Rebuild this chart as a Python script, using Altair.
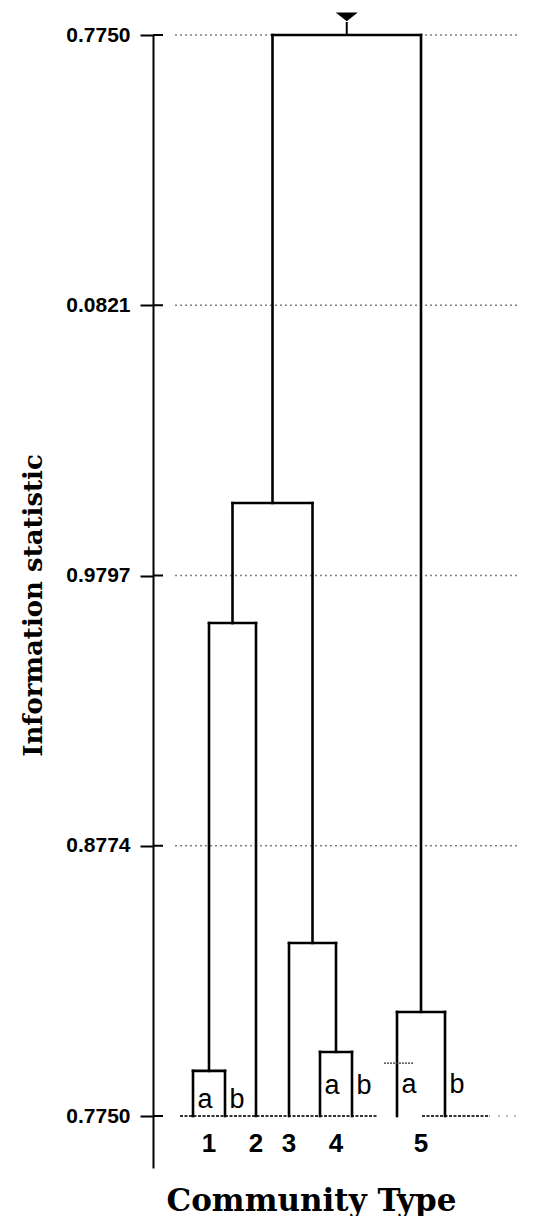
import json
import altair as alt
import pandas as pd

# ---------------- data ----------------
# leaves of the dendrogram, left to right, with their horizontal positions
leaf_names = ["1a", "1b", "2", "3", "4a", "4b", "5a", "5b"]
leaf_pos = [40, 72, 103, 136, 167, 199, 244, 292]
leaf_letters = ["a", "b", "", "", "a", "b", "a", "b"]
letter_level = [0.03, 0.03, 0.0, 0.0, 0.08, 0.08, 0.085, 0.085]

# merges (left child, right child, resulting node, height in axis units)
merge_left = ["1a", "4a", "5a", "3", "1", "12", "1234"]
merge_right = ["1b", "4b", "5b", "4", "2", "34", "5"]
merge_name = ["1", "4", "5", "34", "12", "1234", "root"]
merge_height = [0.167, 0.237, 0.385, 0.640, 1.824, 2.268, 4.0]

# community types shown under the tree
community_labels = ["1", "2", "3", "4", "5"]

# y-axis ticks and their printed labels
tick_values = [0, 1, 2, 3, 4]
tick_labels = ["0.7750", "0.8774", "0.9797", "0.0821", "0.7750"]

# small dotted mark crossing leaf 5a
mark_5a_level = [0.196]

# ---------------- build tree segments ----------------
node_x = {n: p for n, p in zip(leaf_names, leaf_pos)}
node_h = {n: 0.0 for n in leaf_names}
segs = []
for l, r, n, h in zip(merge_left, merge_right, merge_name, merge_height):
    xl, xr = node_x[l], node_x[r]
    segs.append(dict(x=xl, x2=xl, y=node_h[l], y2=h))
    segs.append(dict(x=xr, x2=xr, y=node_h[r], y2=h))
    segs.append(dict(x=xl, x2=xr, y=h, y2=h))
    node_x[n] = (xl + xr) / 2
    node_h[n] = h
seg_df = pd.DataFrame(segs)

root_x = node_x["root"]
root_h = node_h["root"]
stem_df = pd.DataFrame([dict(x=root_x, x2=root_x, y=root_h, y2=root_h + 0.048)])
marker_df = pd.DataFrame([dict(x=root_x, y=root_h + 0.067)])

letters_df = pd.DataFrame(
    [dict(x=p + 12, y=lv, t=t) for p, lv, t in zip(leaf_pos, letter_level, leaf_letters) if t]
)
numbers_df = pd.DataFrame(
    [dict(x=node_x[c], y=-0.133, t=c) for c in community_labels]
)
grid_df = pd.DataFrame(dict(y=tick_values[1:]))
ticks_df = pd.DataFrame(dict(y=tick_values))
base_df = pd.DataFrame(dict(y=[0]))
x5a = node_x["5a"]
m5a_df = pd.DataFrame(dict(x=[x5a - 13], x2=[x5a + 17], y=mark_5a_level))

# ---------------- scales / axes ----------------
W, H = 364, 1133
xscale = alt.Scale(domain=[0, W], nice=False, zero=False)
yscale = alt.Scale(domain=[-0.1924, 4], nice=False, zero=False)

label_expr = json.dumps(tick_labels) + "[datum.value]"

yaxis = alt.Axis(
    values=tick_values,
    labelExpr=label_expr,
    title="Information statistic",
    titleFont="DejaVu Serif",
    titleFontSize=26,
    titleFontWeight="bold",
    titleColor="black",
    titleAngle=270,
    titleAlign="center",
    titleBaseline="alphabetic",
    titleX=-112,
    titleY=570,
    labelFont="Liberation Sans",
    labelFontSize=21,
    labelFontWeight="bold",
    labelColor="black",
    labelPadding=10,
    tickSize=13,
    tickColor="black",
    tickWidth=2,
    domainColor="black",
    domainWidth=2,
    grid=False,
)
xaxis = alt.Axis(
    title="Community Type",
    titleFont="DejaVu Serif",
    titleFontSize=31,
    titleFontWeight="bold",
    titleColor="black",
    titleX=158,
    titleY=42,
    titleAlign="center",
    titleBaseline="alphabetic",
    domain=False,
    ticks=False,
    labels=False,
    grid=False,
)


def X(f):
    return alt.X(f, type="quantitative", scale=xscale, axis=xaxis)


def Y(f):
    return alt.Y(f, type="quantitative", scale=yscale, axis=yaxis)


grid = alt.Chart(grid_df).mark_rule(
    color="#808080", strokeWidth=1.3, strokeDash=[2, 3]
).encode(x=alt.value(22), x2=alt.value(W), y=Y("y"))

base1 = alt.Chart(base_df).mark_rule(
    color="#333333", strokeWidth=2, strokeDash=[3, 1.5]
).encode(x=alt.value(27), x2=alt.value(224), y=Y("y"))
base2 = alt.Chart(base_df).mark_rule(
    color="#333333", strokeWidth=2, strokeDash=[3, 1.5]
).encode(x=alt.value(269), x2=alt.value(337), y=Y("y"))
base3 = alt.Chart(base_df).mark_rule(
    color="#777777", strokeWidth=1, strokeDash=[2, 6]
).encode(x=alt.value(345), x2=alt.value(W), y=Y("y"))

inner_ticks = alt.Chart(ticks_df).mark_rule(
    color="black", strokeWidth=2
).encode(x=alt.value(0), x2=alt.value(10), y=Y("y"))

tree = alt.Chart(seg_df).mark_rule(
    color="black", strokeWidth=2.6, strokeCap="square"
).encode(x=X("x"), x2="x2", y=Y("y"), y2="y2")

m5a = alt.Chart(m5a_df).mark_rule(
    color="#333333", strokeWidth=1.3, strokeDash=[2, 1]
).encode(x=X("x"), x2="x2", y=Y("y"))

stem = alt.Chart(stem_df).mark_rule(color="black", strokeWidth=2).encode(
    x=X("x"), x2="x2", y=Y("y"), y2="y2"
)
marker = alt.Chart(marker_df).mark_point(
    shape="M -1 -0.4 L 1 -0.4 L 0 0.4 Z",
    filled=True,
    size=484,
    color="black",
    opacity=1,
).encode(x=X("x"), y=Y("y"))

letters = alt.Chart(letters_df).mark_text(
    font="Liberation Sans", fontSize=27, color="black",
    align="center", baseline="alphabetic",
).encode(x=X("x"), y=Y("y"), text="t:N")

numbers = alt.Chart(numbers_df).mark_text(
    font="Liberation Sans", fontSize=26, fontWeight="bold", color="black",
    align="center", baseline="alphabetic",
).encode(x=X("x"), y=Y("y"), text="t:N")

chart = alt.layer(
    grid, base1, base2, base3, inner_ticks, tree, m5a, stem, marker, letters, numbers
).properties(
    width=W,
    height=H,
    autosize=alt.AutoSizeParams(type="none"),
    padding={"left": 145, "top": 27, "right": 8, "bottom": 48},
    background="white",
).configure_view(stroke=None)

chart.save("out.html", embed_options={"renderer": "svg", "actions": False})
